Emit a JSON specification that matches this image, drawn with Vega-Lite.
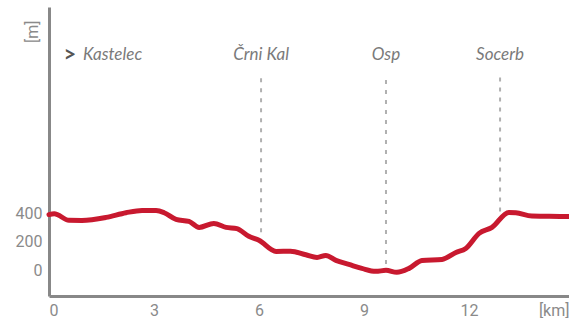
{
  "$schema": "https://vega.github.io/schema/vega-lite/v6.json",
  "width": 520,
  "height": 289,
  "autosize": "none",
  "padding": {"left": 49, "top": 7, "right": 0, "bottom": 22},
  "config": {"view": {"stroke": null}, "axis": {"grid": false}},
  "datasets": {
    "profile": [
      {"km": 0.0, "elev": 392},
      {"km": 0.15, "elev": 398},
      {"km": 0.57, "elev": 352},
      {"km": 0.94, "elev": 351},
      {"km": 1.63, "elev": 372},
      {"km": 2.2, "elev": 405},
      {"km": 2.66, "elev": 421},
      {"km": 3.06, "elev": 420},
      {"km": 3.29, "elev": 405},
      {"km": 3.63, "elev": 358},
      {"km": 4.0, "elev": 344},
      {"km": 4.29, "elev": 302},
      {"km": 4.71, "elev": 330},
      {"km": 5.06, "elev": 302},
      {"km": 5.37, "elev": 293},
      {"km": 5.71, "elev": 239},
      {"km": 6.0, "elev": 211},
      {"km": 6.49, "elev": 133},
      {"km": 6.9, "elev": 135},
      {"km": 7.34, "elev": 110},
      {"km": 7.66, "elev": 91},
      {"km": 7.91, "elev": 105},
      {"km": 8.2, "elev": 70},
      {"km": 8.57, "elev": 42},
      {"km": 8.94, "elev": 14},
      {"km": 9.34, "elev": -7},
      {"km": 9.63, "elev": 0},
      {"km": 9.94, "elev": -14},
      {"km": 10.29, "elev": 14},
      {"km": 10.66, "elev": 70},
      {"km": 11.23, "elev": 77},
      {"km": 11.63, "elev": 126},
      {"km": 11.91, "elev": 154},
      {"km": 12.29, "elev": 260},
      {"km": 12.66, "elev": 302},
      {"km": 13.14, "elev": 407},
      {"km": 13.34, "elev": 405},
      {"km": 13.8, "elev": 382},
      {"km": 14.29, "elev": 380},
      {"km": 14.86, "elev": 378}
    ],
    "places": [
      {"name": "Črni Kal", "km": 6.06, "end": 267},
      {"name": "Osp", "km": 9.63, "end": 45},
      {"name": "Socerb", "km": 12.89, "end": 414}
    ],
    "start": [
      {"name": "Kastelec", "km": 0.97, "mark": ">", "markKm": 0.6}
    ]
  },
  "layer": [
    {
      "data": {"name": "profile"},
      "mark": {"type": "line", "color": "#c8192f", "strokeWidth": 5, "interpolate": "monotone", "strokeCap": "round", "strokeJoin": "round"},
      "encoding": {
        "x": {
          "field": "km",
          "type": "quantitative",
          "scale": {"domain": [0, 14.86], "nice": false, "zero": false},
          "axis": {
            "title": "[km]",
            "values": [0, 3, 6, 9, 12],
            "ticks": false,
            "domainColor": "#888888",
            "domainWidth": 3,
            "labelFont": "Roboto",
            "labelFontSize": 16,
            "labelColor": "#8a8a8a",
            "labelPadding": 6,
            "labelFlush": true,
            "titleFont": "Roboto",
            "titleFontSize": 16,
            "titleFontWeight": "normal",
            "titleColor": "#8a8a8a",
            "titleX": 520,
            "titleY": 6,
            "titleAlign": "right",
            "titleBaseline": "top"
          }
        },
        "y": {
          "field": "elev",
          "type": "quantitative",
          "scale": {"domain": [-180, 1850], "nice": false, "zero": false},
          "axis": {
            "title": "[m]",
            "values": [0, 200, 400],
            "ticks": false,
            "domainColor": "#888888",
            "domainWidth": 3,
            "labelFont": "Roboto",
            "labelFontSize": 16,
            "labelColor": "#8a8a8a",
            "labelPadding": 7,
            "titleFont": "Roboto",
            "titleFontSize": 16,
            "titleFontWeight": "normal",
            "titleColor": "#8a8a8a",
            "titleAngle": 270,
            "titleX": -17,
            "titleY": 13,
            "titleAlign": "right",
            "titleBaseline": "middle"
          }
        }
      }
    },
    {
      "data": {"name": "places"},
      "mark": {"type": "rule", "color": "#b0b0b0", "strokeWidth": 2, "strokeDash": [4, 6]},
      "encoding": {
        "x": {"field": "km", "type": "quantitative"},
        "y": {"field": "end", "type": "quantitative"},
        "y2": {"datum": 1375}
      }
    },
    {
      "data": {"name": "places"},
      "mark": {"type": "text", "font": "Lato", "fontStyle": "italic", "fontSize": 17, "color": "#7a7a7a", "align": "center", "baseline": "middle"},
      "encoding": {
        "x": {"field": "km", "type": "quantitative"},
        "y": {"datum": 1510, "type": "quantitative"},
        "text": {"field": "name"}
      }
    },
    {
      "data": {"name": "start"},
      "mark": {"type": "text", "font": "Lato", "fontStyle": "italic", "fontSize": 17, "color": "#7a7a7a", "align": "left", "baseline": "middle"},
      "encoding": {
        "x": {"field": "km", "type": "quantitative"},
        "y": {"datum": 1510, "type": "quantitative"},
        "text": {"field": "name"}
      }
    },
    {
      "data": {"name": "start"},
      "mark": {"type": "text", "font": "Lato", "fontWeight": "bold", "fontSize": 22, "color": "#555555", "align": "center", "baseline": "middle"},
      "encoding": {
        "x": {"field": "markKm", "type": "quantitative"},
        "y": {"datum": 1510, "type": "quantitative"},
        "text": {"field": "mark"}
      }
    }
  ]
}
